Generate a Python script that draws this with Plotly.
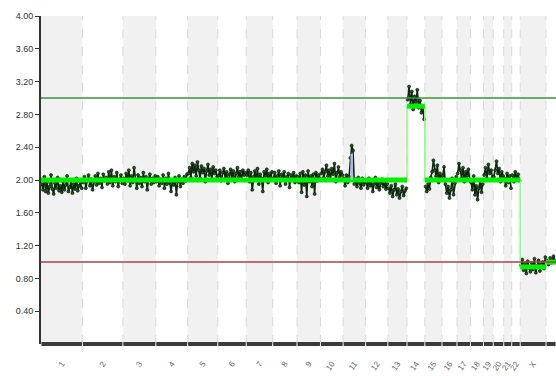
import plotly.graph_objects as go

# Chromosome names and lengths (Mb)
chrom_names = ["1","2","3","4","5","6","7","8","9","10","11","12","13","14","15","16","17","18","19","20","21","22","X","Y"]
chrom_lengths = [249,243,198,191,181,171,159,146,141,136,135,134,115,107,103,90,81,78,59,63,48,51,155,60]

# Copy-number probe values per chromosome
chr1 = [1.95,1.88,2.04,1.86,1.97,1.84,1.92,2.06,1.89,1.83,1.96,1.90,2.03,1.87,1.93,1.85,1.98,1.88,1.94,2.05,1.86,1.91,1.99,1.84,1.95,1.89,2.02,1.87,1.93,1.97,1.90]
chr2 = [1.97,2.04,1.90,1.99,2.06,1.93,2.01,1.88,1.98,2.05,1.94,2.08,1.96,2.02,1.91,2.07,1.99,2.03,1.95,2.10,1.97,2.12,1.93,2.04,1.98,2.09,1.92,2.01,2.06,1.96]
chr3 = [2.02,1.95,2.08,1.99,2.12,1.93,2.05,1.97,2.15,2.00,1.90,2.06,1.96,2.03,1.92,2.09,1.98,2.04,1.88,2.01,2.07,1.95,2.02,1.97,2.05]
chr4 = [1.98,2.04,1.93,2.01,1.96,2.06,1.90,2.02,1.95,2.08,1.97,1.86,2.00,1.94,2.03,1.82,1.98,2.05,1.92,2.01,1.96,2.04,1.99,2.07]
chr5 = [2.08,2.15,2.03,2.20,2.10,2.18,2.05,2.22,2.12,2.02,2.17,2.09,2.14,1.98,2.11,2.19,2.06,2.13,2.01,2.16,2.08,2.12,2.04]
chr6 = [2.05,2.12,1.99,2.09,2.14,2.02,2.10,1.96,2.07,2.13,2.03,2.11,1.98,2.08,2.15,2.04,2.10,2.00,2.12,2.06,2.09]
chr7 = [2.06,2.12,1.98,2.09,1.88,2.04,2.11,2.00,2.14,1.95,2.07,2.02,1.86,2.10,2.05,2.13,1.97,2.08,2.03,2.10]
chr8 = [2.02,2.09,1.96,2.05,2.11,1.93,2.07,2.00,2.10,1.95,2.04,2.08,1.91,2.06,2.01,2.09,1.97,2.05]
chr9 = [2.04,1.97,2.08,1.85,2.10,1.94,2.06,1.80,2.11,1.98,2.05,1.92,2.07,1.83,2.09,1.99,2.06,2.02]
chr10 = [2.08,2.13,2.03,2.10,2.18,2.05,2.12,2.01,2.14,2.07,2.20,1.98,2.09,2.16,2.04,2.10,2.06]
chr11 = [2.02,1.93,2.06,1.97,2.04,2.27,2.42,2.36,1.95,2.01,1.92,2.03,1.96,1.90,2.02,1.94,1.98]
chr12 = [1.97,1.90,2.02,1.93,1.99,1.86,1.95,2.03,1.91,1.98,1.88,1.96,2.01,1.92,1.97,1.89,1.95]
chr13 = [1.90,1.84,1.93,1.80,1.88,1.95,1.82,1.89,1.78,1.86,1.92,1.81,1.87,1.90]
chr14 = [2.98,3.14,2.92,3.08,2.86,3.02,2.95,3.10,2.88,2.97,2.82,2.90,2.74]
chr15 = [1.92,1.86,1.95,1.89,2.03,2.10,2.24,2.12,2.05,2.18,1.97,2.08,2.02]
chr16 = [2.05,2.16,1.95,1.84,1.92,1.78,1.88,2.02,1.82,1.96,2.04]
chr17 = [2.08,2.20,2.12,2.02,2.15,1.98,2.10,2.05,2.13,2.00]
chr18 = [1.97,1.88,2.05,1.82,1.93,1.76,1.90,2.00,1.85,1.95]
chr19 = [2.06,2.15,2.02,2.19,2.08,2.12,2.03]
chr20 = [2.04,2.12,2.23,2.08,2.14,1.98,2.10,2.05]
chr21 = [2.02,1.93,2.08,1.97,2.05,1.90]
chr22 = [2.06,1.98,2.10,2.02,2.07,1.99]
chrX = [0.96,1.03,0.90,0.98,0.86,1.01,0.93,0.88,0.99,0.91,1.04,0.87,0.95,1.02,0.89,0.97,1.00,0.92,1.06]
chrY = [1.02,0.97,1.05,0.99,1.07,1.01]
probe_values = [chr1,chr2,chr3,chr4,chr5,chr6,chr7,chr8,chr9,chr10,chr11,chr12,chr13,
                chr14,chr15,chr16,chr17,chr18,chr19,chr20,chr21,chr22,chrX,chrY]

# Segments: (first chromosome index, last chromosome index, copy number)
segments = [(0, 12, 2.00), (13, 13, 2.90), (14, 21, 2.00), (22, 22, 0.94), (23, 23, 1.00)]

# Reference lines
gain_level = 3.0
loss_level = 1.0

y_ticks = [0.40,0.80,1.20,1.60,2.00,2.40,2.80,3.20,3.60,4.00]

starts = []
acc = 0
for L in chrom_lengths:
    starts.append(acc)
    acc += L
total = acc
ends = [s + L for s, L in zip(starts, chrom_lengths)]
centers = [s + L / 2 for s, L in zip(starts, chrom_lengths)]

fig = go.Figure()

shapes = []
# alternating background bands
for i, (s, e) in enumerate(zip(starts, ends)):
    if i % 2 == 0:
        shapes.append(dict(type="rect", xref="x", yref="y", x0=s, x1=e, y0=0, y1=4,
                           fillcolor="#f1f1f1", line=dict(width=0), layer="below"))
# dashed boundaries
for e in ends[:-1]:
    shapes.append(dict(type="line", xref="x", yref="y", x0=e, x1=e, y0=0, y1=4,
                       line=dict(color="#d9d9d9", width=1, dash="dash"), layer="below"))
# bottom axis segments
for s, e in zip(starts, ends):
    shapes.append(dict(type="line", xref="x", yref="paper", x0=s + 3, x1=e - 3, y0=0, y1=0,
                       line=dict(color="#3a3a3a", width=4), layer="above"))
# reference lines
shapes.append(dict(type="line", xref="paper", yref="y", x0=0, x1=1, y0=gain_level, y1=gain_level,
                   line=dict(color="#3c913c", width=1.5), layer="above"))
shapes.append(dict(type="line", xref="paper", yref="y", x0=0, x1=1, y0=loss_level, y1=loss_level,
                   line=dict(color="#a84444", width=1.5), layer="above"))

# probe points
px, py = [], []
for i, vals in enumerate(probe_values):
    n = len(vals)
    for j, v in enumerate(vals):
        px.append(starts[i] + (j + 0.5) / n * chrom_lengths[i])
        py.append(v)
    px.append(None)
    py.append(None)

fig.add_trace(go.Scatter(x=px, y=py, mode="lines+markers",
                         line=dict(color="#0d2a0d", width=1.6),
                         marker=dict(size=3, color="#1e5a1e", line=dict(color="#050505", width=0.6)),
                         hoverinfo="skip", showlegend=False))

# step connector (thin light green)
sx, sy = [], []
for a, b, v in segments:
    sx += [starts[a], ends[b]]
    sy += [v, v]
fig.add_trace(go.Scatter(x=sx, y=sy, mode="lines", line=dict(color="#86ff86", width=1.5),
                         hoverinfo="skip", showlegend=False))
# thick segments
tx, ty = [], []
for a, b, v in segments:
    tx += [starts[a], ends[b], None]
    ty += [v, v, None]
fig.add_trace(go.Scatter(x=tx, y=ty, mode="lines", line=dict(color="#00f000", width=5),
                         hoverinfo="skip", showlegend=False))

# small lavender marker at chr11 spike
spike_pos = starts[10] + 6.5 / 17 * chrom_lengths[10]
fig.add_trace(go.Scatter(x=[spike_pos, spike_pos], y=[2.0, 2.32], mode="lines",
                         line=dict(color="#b4b4f0", width=2.5), hoverinfo="skip", showlegend=False))

fig.update_layout(
    width=556, height=376,
    margin=dict(l=41, r=0, t=16, b=32),
    paper_bgcolor="white", plot_bgcolor="white",
    shapes=shapes,
    font=dict(family="Liberation Sans, Arial, sans-serif", size=9, color="#333333"),
    xaxis=dict(range=[0, total], tickvals=centers, ticktext=chrom_names, tickangle=-55,
               showgrid=False, zeroline=False, showline=False, ticks="outside", ticklen=11,
               tickcolor="rgba(0,0,0,0)", tickfont=dict(size=8, color="#666666"),
               automargin=False),
    yaxis=dict(range=[0, 4], tickvals=y_ticks, ticktext=["%.2f" % t for t in y_ticks],
               showgrid=False, zeroline=False, showline=True, linecolor="#333333", linewidth=2,
               ticks="outside", ticklen=4, tickcolor="#333333",
               tickfont=dict(size=9, color="#333333"), automargin=False),
)

fig.write_html("out.html", config={"displayModeBar": False},
               post_script="document.body.style.margin='0';document.body.style.overflow='hidden';")
